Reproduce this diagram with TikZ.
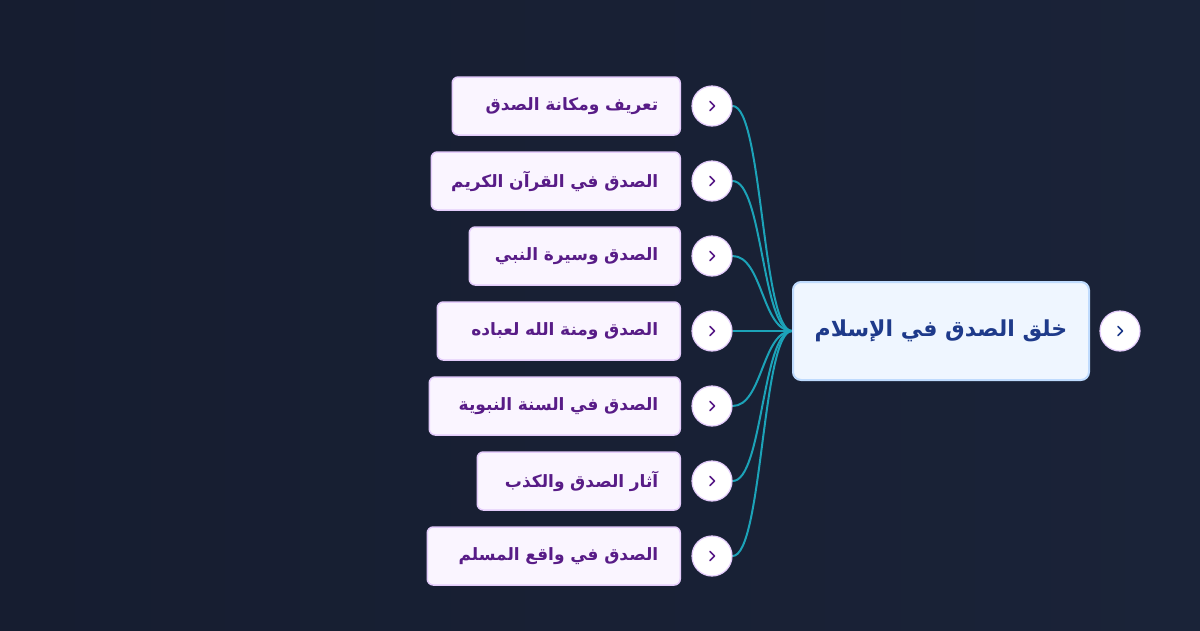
\documentclass[tikz,border=0pt]{standalone}
\usepackage{fontspec}
\usetikzlibrary{calc,backgrounds}
\TeXXeTstate=1
\newfontfamily\arabicfont[Script=Arabic]{DejaVu Sans}
\definecolor{bgA}{HTML}{161D30}
\definecolor{bgB}{HTML}{1A2338}
\definecolor{childfill}{HTML}{FAF5FF}
\definecolor{childline}{HTML}{E4CCFB}
\definecolor{childtext}{HTML}{581C87}
\definecolor{rootfill}{HTML}{EFF6FF}
\definecolor{rootline}{HTML}{BFDBFE}
\definecolor{roottext}{HTML}{1E3A8A}
\definecolor{edgecol}{HTML}{1CA3B8}
\newcommand{\rtlline}[1]{\hbox to \linewidth{\hss\beginR #1\endR}}
\tikzset{
  childbox/.style={draw=childline, fill=childfill, line width=1.5pt, rounded corners=6pt,
    minimum height=58pt, anchor=east, align=right, inner xsep=22pt, inner ysep=0pt,
    text=childtext, font=\arabicfont\bfseries\fontsize{17}{21}\selectfont},
  rootbox/.style={draw=rootline, fill=rootfill, line width=2pt, rounded corners=8pt,
    minimum width=296pt, minimum height=98pt, inner sep=0pt, align=center,
    text=roottext, font=\arabicfont\bfseries\fontsize{22}{26}\selectfont},
  toggle/.style={circle, draw=childline, fill=white, line width=1.2pt, minimum size=40pt,
    inner sep=0pt},
  chev/.style={line width=1.6pt, line cap=round, line join=round},
  edge/.style={draw=edgecol, line width=2pt}
}
\begin{document}
\begin{tikzpicture}[x=1pt,y=-1pt]
\useasboundingbox (0,0) rectangle (1200,630);
\begin{scope}[on background layer]
\shade[left color=bgA, right color=bgB] (0,0) rectangle (1200,630);
\end{scope}
% root
\node[rootbox] (root) at (941,331) {\beginR خلق الصدق في الإسلام\endR};
\node[toggle] (rt) at (1120,331) {};
\draw[chev, roottext] ($(rt.center)+(-2,-4.5)$) -- ($(rt.center)+(2.5,0)$) -- ($(rt.center)+(-2,4.5)$);
% children
\node[childbox, text width=184pt] (n1) at (681,106) {\rtlline{تعريف ومكانة الصدق}};
\node[childbox, text width=205pt] (n2) at (681,181) {\rtlline{الصدق في القرآن الكريم}};
\node[childbox, text width=167pt] (n3) at (681,256) {\rtlline{الصدق وسيرة النبي}};
\node[childbox, text width=199pt] (n4) at (681,331) {\rtlline{الصدق ومنة الله لعباده}};
\node[childbox, text width=207pt] (n5) at (681,406) {\rtlline{الصدق في السنة النبوية}};
\node[childbox, text width=159pt] (n6) at (681,481) {\rtlline{آثار الصدق والكذب}};
\node[childbox, text width=209pt] (n7) at (681,556) {\rtlline{الصدق في واقع المسلم}};
\foreach \i/\y in {1/106,2/181,3/256,4/331,5/406,6/481,7/556}{
  \node[toggle] (t\i) at (712,\y) {};
  \draw[chev, childtext] ($(t\i.center)+(-2,-4.5)$) -- ($(t\i.center)+(2.5,0)$) -- ($(t\i.center)+(-2,4.5)$);
}
\begin{scope}[on background layer]
\foreach \i in {1,...,7}{
  \draw[edge] (t\i.east) .. controls ($(t\i.east)+(30,0)$) and ($(root.west)+(-30,0)$) .. (root.west);
}
\end{scope}
\end{tikzpicture}
\end{document}
